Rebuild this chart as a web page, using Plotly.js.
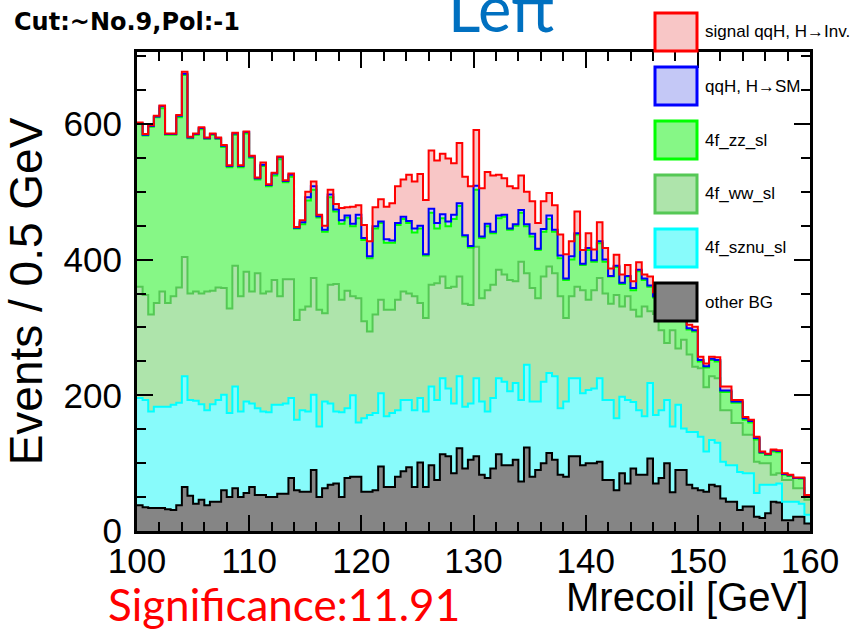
<!DOCTYPE html>
<html>
<head>
<meta charset="utf-8">
<script src="https://cdn.plot.ly/plotly-3.0.1.min.js"></script>
<style>html,body{margin:0;padding:0;background:#fff;}#chart{width:857px;height:630px;}</style>
</head>
<body>
<div id="chart"></div>
<script>
// Histogram binning: Mrecoil 100-160 GeV, 0.5 GeV bins
const binLow = 100, binHigh = 160, nBins = 120;

// Per-sample events per bin (stack order: bottom -> top)
const otherBG = [38,35,34,34,34,32,31,38,65,52, 40,46,38,43,43,60,50,63,50,56,
  65,53,53,50,50,55,55,78,60,58, 58,90,50,63,68,70,50,78,80,80,
  58,58,60,95,65,65,80,88,94,65, 101,65,97,75,113,110,85,122,92,105,
  110,83,78,92,113,97,97,105,73,123, 80,90,100,115,105,83,80,110,110,97,
  100,100,102,75,75,60,85,70,92,83, 83,107,70,78,100,57,90,90,68,63,
  60,58,68,66,48,43,43,31,36,36, 21,19,26,43,42,16,16,21,21,11];
const sznu = [158,158,142,149,149,151,155,151,163,141, 152,141,140,144,150,141,124,150,126,135,
  123,128,123,125,136,131,133,118,104,120, 118,111,104,128,120,106,125,103,120,80,
  108,113,114,108,104,109,98,105,99,113, 95,111,116,118,112,100,103,106,91,83,
  115,108,98,104,112,123,109,113,120,122, 111,101,120,118,123,98,111,115,115,106,
  108,110,123,118,118,106,113,123,98,95, 86,111,101,100,93,97,96,61,78,83,
  79,59,66,64,54,54,54,56,49,49, 35,49,42,25,28,27,27,22,19,13];
const wwSl = [164,155,143,153,170,153,160,170,176,157, 161,163,175,167,166,157,154,178,170,191,
  165,199,174,178,184,160,183,175,147,148, 155,172,172,130,175,188,166,173,146,183,
  143,123,145,138,157,152,163,160,157,168, 140,138,150,172,150,148,172,147,152,145,
  194,152,179,167,160,158,164,150,204,135, 167,152,155,157,152,165,123,121,135,152,
  133,145,148,157,142,182,133,153,136,138, 162,106,149,118,84,142,83,131,114,96,
  101,95,94,95,76,81,62,72,57,57, 46,32,32,15,15,32,32,20,23,22];
const zzSl = [240,235,277,274,270,248,238,251,268,229, 231,242,225,230,219,208,208,193,190,204,
  197,138,188,155,154,202,143,151,135,126, 156,130,136,120,129,107,112,108,103,118,
  120,108,127,113,99,99,110,107,104,94, 110,92,106,81,86,91,100,104,99,85,
  84,89,94,76,76,85,74,82,72,69, 76,71,66,70,61,56,56,54,77,37,
  73,42,51,47,40,41,33,29,29,67, 39,36,24,41,50,14,68,55,37,52,
  10,29,24,25,27,27,30,30,22,18, 33,15,12,34,31,8,6,15,14,7];
const qqhSM = [1,1,1,1,3,1,1,2,2,1, 1,2,1,1,1,2,2,2,2,2,
  2,2,2,2,3,3,2,3,1,3, 5,5,2,3,4,3,5,3,4,5,
  3,3,3,2,5,3,3,3,3,6, 4,2,6,8,6,7,6,4,2,2,
  6,2,4,2,4,3,2,2,4,3, 4,2,4,5,3,4,2,5,2,2,
  3,2,3,3,1,2,2,1,3,2, 2,2,2,2,2,2,3,3,2,2,
  2,2,2,2,2,2,2,2,2,2, 2,1,1,2,2,1,1,0,1,0];
const signalInv = [1,1,1,1,1,1,1,1,3,1, 1,1,1,1,1,1,1,1,1,1,
  1,1,3,1,1,1,1,2,1,3, 8,7,2,6,7,8,18,12,25,14,
  19,22,28,33,48,55,54,55,68,69, 76,80,86,92,89,93,76,89,86,88,
  82,71,76,83,60,54,62,53,51,48, 48,38,41,33,36,31,36,22,32,20,
  22,16,28,17,11,16,12,16,10,11, 6,13,6,6,6,6,5,5,5,5,
  5,4,3,4,6,6,2,2,2,2, 2,1,1,1,1,1,1,1,1,0];

const seriesNames = ["other BG","4f_sznu_sl","4f_ww_sl","4f_zz_sl","qqH, H\u2192SM","signal qqH, H\u2192Inv."];
const seriesData = [otherBG, sznu, wwSl, zzSl, qqhSM, signalInv];
const lineColors = ["#000000","#00ffff","#55c855","#00ff00","#0000ff","#ff0000"];
const fillColors = ["#858585","#88fbfb","#aee4ab","#86f786","#c4c8f6","#f8c6c6"];

const binW = (binHigh - binLow) / nBins;
const xEdges = [];
for (let i = 0; i <= nBins; i++) xEdges.push(binLow + i * binW);
function stepValues(v) { return v.concat([v[v.length - 1]]); }

const traces = seriesData.map((vals, k) => ({
  type: "scatter", mode: "lines", name: seriesNames[k],
  x: xEdges, y: stepValues(vals),
  stackgroup: "stack",
  line: {shape: "hv", color: lineColors[k], width: 2},
  fillcolor: fillColors[k],
  hoverinfo: "skip", showlegend: false
}));

// pixel helpers for the frame (plot area 137..810 x 52..531)
const L = 137, R = 810, T = 52, B = 531;
const px = x => (x - L) / (R - L);
const py = y => (B - y) / (B - T);

const legendOrder = [5,4,3,2,1,0];
const legendTop = [13,67,121,175,229,283];
const shapes = [], annotations = [];
legendOrder.forEach((k, j) => {
  shapes.push({type:"rect", xref:"paper", yref:"paper", layer:"above",
    x0: px(655), x1: px(697), y0: py(legendTop[j] + 38), y1: py(legendTop[j]),
    line:{color: lineColors[k], width: 3}, fillcolor: fillColors[k]});
  annotations.push({xref:"paper", yref:"paper", x: px(703), y: py(legendTop[j] + 19),
    xanchor:"left", yanchor:"middle", showarrow:false, text: seriesNames[k],
    font:{family:"Liberation Sans, Arial", size:17, color:"#000"}});
});

annotations.push({xref:"paper", yref:"paper", x: px(12), y: py(22), xanchor:"left", yanchor:"middle",
  showarrow:false, text:"<b>Cut:~No.9,Pol:-1</b>", font:{family:"DejaVu Sans", size:24, color:"#000"}});
annotations.push({xref:"paper", yref:"paper", x: px(501), y: py(47), xanchor:"center", yanchor:"bottom",
  showarrow:false, text:"Left", font:{family:"Lato, Carlito, sans-serif", size:63, color:"#0070C0"}});
annotations.push({xref:"paper", yref:"paper", x: px(106), y: py(604), xanchor:"left", yanchor:"middle",
  showarrow:false, text:"Significance:11.91", font:{family:"Lato, sans-serif", size:44, color:"#ff0000"}});
annotations.push({xref:"paper", yref:"paper", x: 1, y: py(597), xanchor:"right", yanchor:"middle",
  showarrow:false, text:"Mrecoil [GeV]", font:{family:"Liberation Sans, Arial", size:40, color:"#000"}});

const axisCommon = {
  ticks:"inside", ticklen:16, tickwidth:2, tickcolor:"#000",
  showline:true, linecolor:"#000", linewidth:3, mirror:"ticks",
  showgrid:false, zeroline:false,
  tickfont:{family:"Liberation Sans, Arial", size:35, color:"#000"}
};

const layout = {
  width:857, height:630,
  margin:{l:L, r:857-R, t:T, b:630-B},
  paper_bgcolor:"#fff", plot_bgcolor:"#fff",
  showlegend:false,
  xaxis: Object.assign({}, axisCommon, {range:[binLow, binHigh], tick0:100, dtick:10,
    minor:{dtick:2, ticks:"inside", ticklen:9, tickwidth:2, tickcolor:"#000"}, ticklabelstandoff:-3}),
  yaxis: Object.assign({}, axisCommon, {range:[0, 706], tick0:0, dtick:200,
    minor:{dtick:50, ticks:"inside", ticklen:9, tickwidth:2, tickcolor:"#000"}, ticklabelstandoff:5,
    title:{text:"Events / 0.5 GeV", standoff:13, font:{family:"Liberation Sans, Arial", size:46, color:"#000"}}}),
  shapes: shapes,
  annotations: annotations
};

Plotly.newPlot("chart", traces, layout, {displayModeBar:false, staticPlot:true});
</script>
</body>
</html>
